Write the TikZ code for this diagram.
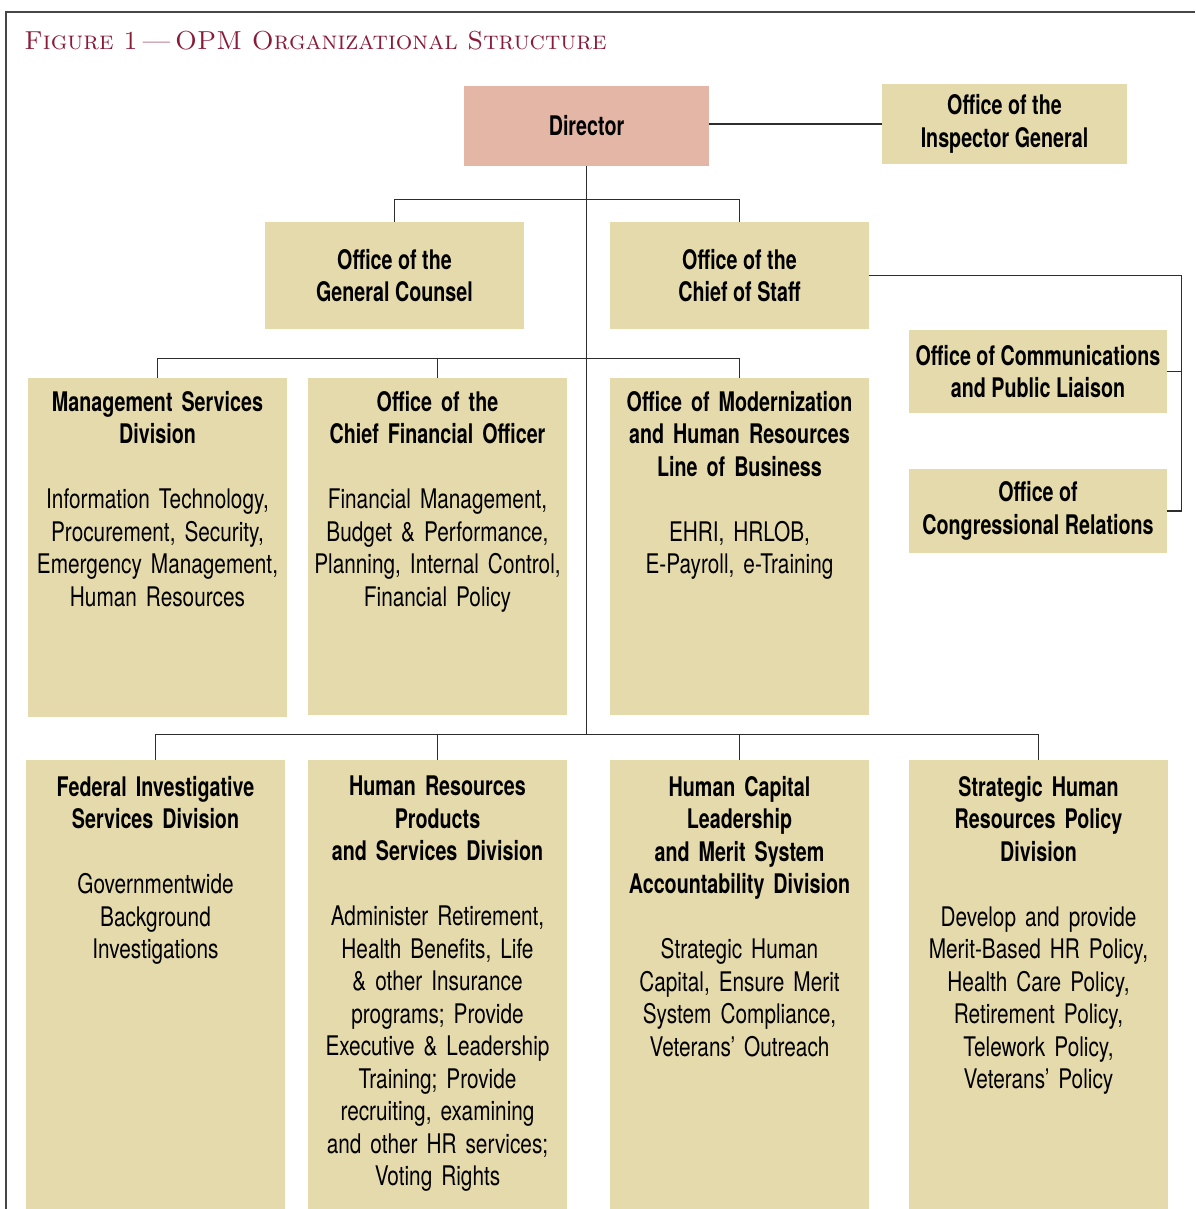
\documentclass[tikz,border=0pt]{standalone}
\usepackage{fontspec}
\setsansfont{TeX Gyre Heros}[UprightFeatures={FakeStretch=0.77},
                             BoldFeatures={FakeStretch=0.73}]
\usetikzlibrary{positioning}
\definecolor{OpmTan}{RGB}{229,218,172}
\definecolor{OpmRose}{RGB}{228,182,166}
\definecolor{OpmRed}{RGB}{138,27,56}
\definecolor{RuleGray}{RGB}{45,45,45}
\definecolor{FrameGray}{RGB}{70,70,70}
\newcommand{\orgfont}{\sffamily\fontsize{13.5}{16.25}\selectfont}
\tikzset{
  tbox/.style={fill=OpmTan,minimum width=129.5pt,inner sep=0pt,
               font=\orgfont\bfseries,align=center},
  dbox/.style={fill=OpmRose,minimum width=122.5pt,minimum height=40pt,
               inner sep=0pt,font=\orgfont\bfseries},
  ubox/.style={fill=OpmTan,minimum width=129.5pt,inner sep=0pt},
  utxt/.style={anchor=north,inner sep=0pt,text width=129pt,align=center,
               font=\orgfont},
  link/.style={draw=RuleGray,line width=0.75pt},
}

\begin{document}
\begin{tikzpicture}[x=0.5pt,y=-0.5pt]
  \useasboundingbox (0,0) rectangle (1195,1209);
  \draw[FrameGray,line width=1pt] (1195,12) -- (6,12) -- (6,1209);
  \node[anchor=base west,inner sep=0pt,text=OpmRed,
        font=\rmfamily\fontsize{13}{15}\selectfont] (title) at (24,50)
        {\textsc{Figure 1\,—\,OPM Organizational Structure}};

  % top offices
  \node[dbox] (dir) at (586.5,126) {Director};
  \node[tbox,minimum width=122.5pt,minimum height=40pt] (ig) at (1004.5,124)
        {Office of the\\Inspector General};
  \node[tbox,minimum height=53.5pt] (gc) at (394.5,275.5) {Office of the\\General Counsel};
  \node[tbox,minimum height=53.5pt] (cos) at (739.5,275.5) {Office of the\\Chief of Staff};
  \node[tbox,minimum width=129pt,minimum height=41.5pt] (ocpl) at (1038,371.5)
        {Office of Communications\\and Public Liaison};
  \node[tbox,minimum width=129pt,minimum height=42pt] (ocr) at (1038,511)
        {Office of\\Congressional Relations};

  % second row
  \node[ubox,minimum height=169.5pt] (msd) at (157.5,547.5) {};
  \node[ubox,minimum height=168.5pt] (cfo) at (437.5,546.5) {};
  \node[ubox,minimum height=168.5pt] (mod) at (739.5,546.5) {};
  \node[utxt] (msdt) at ([yshift=-6.5pt]msd.north)
        {\textbf{Management Services\\Division}\\[16.25pt]
         Information Technology,\\Procurement, Security,\\
         Emergency Management,\\Human Resources};
  \node[utxt] (cfot) at ([yshift=-6.5pt]cfo.north)
        {\textbf{Office of the\\Chief Financial Officer}\\[16.25pt]
         Financial Management,\\Budget \& Performance,\\
         Planning, Internal Control,\\Financial Policy};
  \node[utxt] (modt) at ([yshift=-6.5pt]mod.north)
        {\textbf{Office of Modernization\\and Human Resources\\Line of Business}\\[16.25pt]
         EHRI, HRLOB,\\E-Payroll, e-Training};

  % divisions
  \node[ubox,minimum height=224.5pt] (fis) at (155.5,984.5) {};
  \node[ubox,minimum height=224.5pt] (hrps) at (437.5,984.5) {};
  \node[ubox,minimum height=224.5pt] (hcl) at (739.5,984.5) {};
  \node[ubox,minimum height=224.5pt] (shrp) at (1038.5,984.5) {};
  \node[utxt] (fist) at ([yshift=-8pt]fis.north)
        {\textbf{Federal Investigative\\Services Division}\\[16.25pt]
         Governmentwide\\Background\\Investigations};
  \node[utxt] (hrpst) at ([yshift=-8pt]hrps.north)
        {\textbf{Human Resources\\Products\\and Services Division}\\[16.25pt]
         Administer Retirement,\\Health Benefits, Life\\\& other Insurance\\
         programs; Provide\\Executive \& Leadership\\Training; Provide\\
         recruiting, examining\\and other HR services;\\Voting Rights};
  \node[utxt] (hclt) at ([yshift=-8pt]hcl.north)
        {\textbf{Human Capital\\Leadership\\and Merit System\\Accountability Division}\\[16.25pt]
         Strategic Human\\Capital, Ensure Merit\\System Compliance,\\Veterans’ Outreach};
  \node[utxt] (shrpt) at ([yshift=-8pt]shrp.north)
        {\textbf{Strategic Human\\Resources Policy\\Division}\\[16.25pt]
         Develop and provide\\Merit-Based HR Policy,\\Health Care Policy,\\
         Retirement Policy,\\Telework Policy,\\Veterans’ Policy};

  % connectors
  \draw[link] (ig.west) -- (ig.west -| dir.east);
  \draw[link] (dir.south) -- ++(0,569);
  \draw[link] (gc.north) -- ++(0,-22) -| (cos.north);
  \draw[link] (msd.north) -- ++(0,-19) -| (mod.north);
  \draw[link] (cfo.north) -- ++(0,-19);
  \draw[link] (fis.north) -- ++(0,-25) -| (shrp.north);
  \draw[link] (hrps.north) -- ++(0,-25);
  \draw[link] (hcl.north) -- ++(0,-25);
  \draw[link] (cos.east) -- ++(312,0) |- (ocr.east);
  \draw[link] (ocpl.east) -- ++(14,0);
\end{tikzpicture}
\end{document}
